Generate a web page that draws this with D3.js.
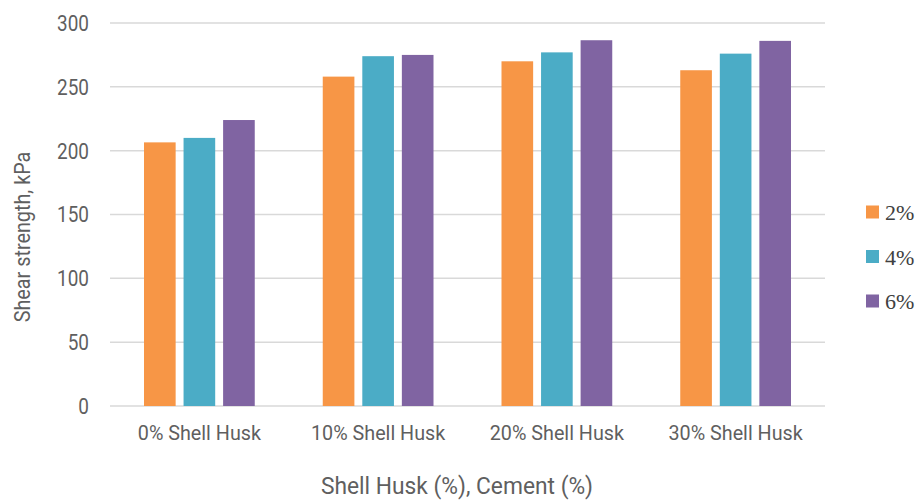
<!DOCTYPE html>
<html><head><meta charset="utf-8">
<script src="https://cdn.jsdelivr.net/npm/d3@7"></script>
<style>body{margin:0;background:#fff}</style>
</head><body>
<svg id="c" width="922" height="504"></svg>
<script>
const categories = ["0% Shell Husk","10% Shell Husk","20% Shell Husk","30% Shell Husk"];
const seriesNames = ["2%","4%","6%"];
const values2 = [206.5, 258, 270, 263];
const values4 = [210, 274, 277, 276];
const values6 = [224, 275, 286.5, 286];
const yTicks = [0,50,100,150,200,250,300];
const colors = ["#F79646","#4BACC6","#8064A2"];
const series = [values2, values4, values6];

const svg = d3.select("#c");
const L = 110, R = 825, T = 23, B = 406;
const x = d3.scaleBand().domain(categories).range([L, R]).paddingInner(0).paddingOuter(0);
const y = d3.scaleLinear().domain([0,300]).range([B, T]);
const inner = d3.scaleBand().domain(seriesNames).range([34, x.bandwidth()-34]).paddingInner(0.2);

function condense(sel, f) {
  sel.each(function() {
    const w = this.getComputedTextLength();
    d3.select(this).attr("textLength", w * f).attr("lengthAdjust", "spacingAndGlyphs");
  });
}

// gridlines
svg.append("g").selectAll("line").data(yTicks).join("line")
  .attr("x1", L).attr("x2", R).attr("y1", d=>y(d)).attr("y2", d=>y(d))
  .attr("stroke", "#d9d9d9").attr("stroke-width", 1.5);

// y axis labels
const ya = svg.append("g").attr("transform", `translate(${L},0)`)
  .call(d3.axisLeft(y).tickValues(yTicks).tickSize(0).tickPadding(21));
ya.select(".domain").remove();
ya.selectAll("text").attr("font-family","Roboto").attr("font-size",22).attr("fill","#5f5f5f").attr("dy","0.34em");
condense(ya.selectAll("text"), 0.86);

// x axis labels
const xa = svg.append("g").attr("transform", `translate(0,${B})`)
  .call(d3.axisBottom(x).tickSize(0).tickPadding(19));
xa.select(".domain").remove();
xa.selectAll("text").attr("font-family","Roboto").attr("font-size",21).attr("fill","#5f5f5f");
condense(xa.selectAll("text"), 0.94);

// bars
categories.forEach((c, ci) => {
  series.forEach((s, si) => {
    svg.append("rect")
      .attr("x", x(c) + inner(seriesNames[si]))
      .attr("y", y(s[ci]))
      .attr("width", inner.bandwidth())
      .attr("height", B - y(s[ci]))
      .attr("fill", colors[si]);
  });
});

// axis titles
const xt = svg.append("text").attr("x", 457).attr("y", 494).attr("text-anchor","middle")
  .attr("font-family","Roboto").attr("font-size",23).attr("fill","#5f5f5f")
  .text("Shell Husk (%), Cement (%)");
condense(xt, 0.99);
const yt = svg.append("text").attr("transform","translate(30,237) rotate(-90)").attr("text-anchor","middle")
  .attr("font-family","Roboto").attr("font-size",22).attr("fill","#5f5f5f")
  .text("Shear strength, kPa");
condense(yt, 0.9);

// legend
const lg = svg.append("g");
seriesNames.forEach((n, i) => {
  const cy = 212 + i*44.5;
  lg.append("rect").attr("x", 866).attr("y", cy-6.5).attr("width", 13).attr("height", 13).attr("fill", colors[i]);
  lg.append("text").attr("x", 885).attr("y", cy+8).attr("font-family","'Liberation Serif', 'DejaVu Serif', serif")
    .attr("font-size", 22).attr("fill","#404040").text(n);
});
</script>
</body></html>
